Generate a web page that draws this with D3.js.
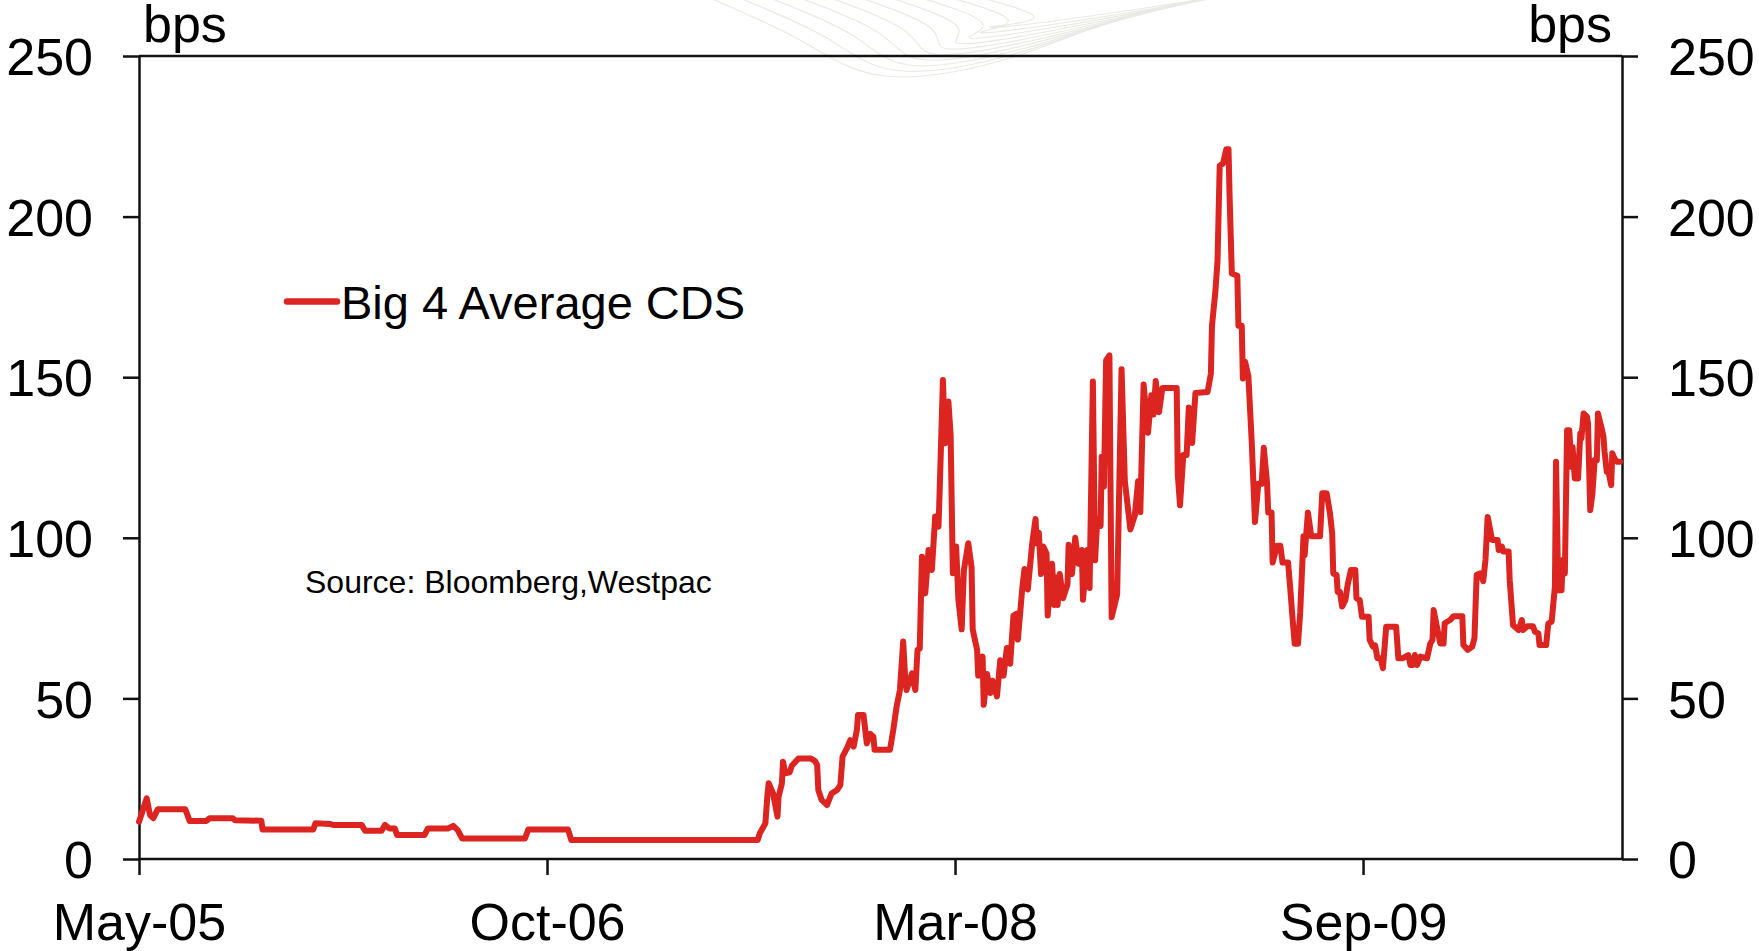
<!DOCTYPE html>
<html>
<head>
<meta charset="utf-8">
<script src="https://cdn.jsdelivr.net/npm/d3@7/dist/d3.min.js"></script>
<style>
  html, body { margin: 0; padding: 0; background: #fff; }
  svg { display: block; }
  text { font-family: "Liberation Sans", Arial, Helvetica, sans-serif; fill: #000; }
</style>
</head>
<body>
<svg id="chart" width="1759" height="951"></svg>
<script>
// Observation number (trading days since start of series) for each reading
const obsDay = [
  0, 4, 7, 10, 13, 17, 42, 46, 61, 64, 85, 87, 111, 112, 158, 160, 173, 176, 202, 205,
  220, 223, 227, 232, 234, 259, 262, 280, 285, 289, 293, 350, 353, 389, 392, 561,
  563, 568, 570, 571, 575, 579, 580, 583, 584, 586, 590, 592, 598, 609, 613, 615, 616, 619,
  624, 628, 633, 636, 638, 642, 645, 648, 651, 652, 657, 660, 663, 666, 667, 681, 684, 687,
  690, 693, 695, 696, 701, 704, 706, 708, 710, 713, 716, 719, 722, 725, 726, 729, 731, 734,
  736, 738, 741, 743, 746, 748, 752, 755, 756, 760, 761, 765, 766, 769, 772, 774, 778, 781,
  784, 787, 790, 793, 796, 797, 801, 803, 806, 810, 813, 814, 816, 818, 820, 823, 824, 828,
  830, 832, 833, 835, 838, 842, 843, 846, 849, 852, 855, 856, 860, 862, 865, 867, 869, 872,
  873, 875, 877, 880, 882, 887, 891, 894, 899, 903, 906, 908, 911, 915, 918, 919, 920, 922,
  925, 928, 941, 942, 944, 947, 950, 952, 955, 958, 969, 972, 973, 976, 978, 980, 983, 986,
  988, 989, 991, 996, 997, 1000, 1001, 1003, 1006, 1009, 1012, 1015, 1018, 1020, 1023, 1024,
  1027, 1028, 1032, 1035, 1037, 1042, 1044, 1046, 1048, 1051, 1053, 1056, 1057, 1060, 1063,
  1071, 1073, 1077, 1080, 1082, 1083, 1086, 1087, 1089, 1091, 1094, 1096, 1099, 1103, 1104,
  1107, 1109, 1115, 1116, 1119, 1121, 1123, 1126, 1128, 1131, 1140, 1142, 1146, 1151, 1153,
  1155, 1157, 1159, 1162, 1168, 1171, 1173, 1174, 1177, 1180, 1183, 1184, 1189, 1192, 1200,
  1201, 1205, 1209, 1211, 1213, 1216, 1219, 1221, 1223, 1227, 1232, 1233, 1236, 1237, 1242,
  1243, 1245, 1246, 1251, 1254, 1255, 1259, 1264, 1266, 1269, 1270, 1276, 1278, 1281, 1284,
  1285, 1287, 1290, 1291, 1293, 1295, 1297, 1299, 1300, 1302, 1305, 1307, 1308, 1310, 1313,
  1314, 1316, 1318, 1320, 1322, 1323, 1326, 1328, 1329, 1331, 1332, 1335, 1336, 1338, 1340, 1343
];

// Big 4 average CDS spread, bps
const cdsBps = [
  11.6, 15.8, 18.9, 13.7, 12.7, 15.5, 15.5, 11.8, 11.8, 12.7, 12.7, 12.1, 11.9, 9.2, 9.2, 11.1, 10.9, 10.6, 10.6, 8.8,
  8.8, 10.6, 9.5, 9.5, 7.5, 7.5, 9.5, 9.5, 10.3, 9.0, 6.4, 6.4, 9.2, 9.2, 5.9, 5.9,
  8.0, 11.1, 20.4, 23.6, 20.4, 13.2, 19.4, 23.6, 30.3, 26.7, 27.0, 29.0, 31.3, 31.3, 30.5, 29.3, 21.5, 18.4,
  16.8, 20.4, 21.5, 23.0, 31.9, 34.5, 37.0, 35.0, 40.2, 44.8, 44.8, 36.0, 39.0, 38.0, 34.0, 34.0, 40.2, 47.4,
  52.6, 67.7, 55.0, 52.6, 57.8, 52.6, 65.1, 65.5, 94.1, 82.7, 96.2, 90.0, 106.6, 103.5, 113.8, 149.1, 129.4, 142.4,
  132.0, 89.0, 97.3, 81.0, 71.5, 89.8, 98.3, 90.8, 71.5, 65.1, 57.1, 63.0, 48.0, 57.6, 51.7, 55.5, 50.6, 61.9,
  57.1, 65.7, 60.8, 75.8, 76.4, 68.3, 84.4, 90.3, 83.9, 98.3, 105.9, 98.3, 101.6, 88.7, 97.3, 95.1, 75.8, 91.9,
  79.1, 87.6, 79.1, 88.7, 81.2, 85.5, 97.8, 88.7, 100.0, 91.9, 96.2, 80.7, 96.2, 84.4, 148.7, 93.0, 105.9, 103.7,
  125.2, 116.0, 155.2, 156.8, 75.3, 82.3, 152.5, 117.6, 102.6, 106.9, 117.6, 108.0, 147.7, 132.7, 144.4, 143.6, 138.4, 148.8,
  139.1, 146.6, 146.6, 119.8, 110.1, 125.8, 125.8, 140.6, 129.5, 145.1, 145.4, 151.1, 166.0, 176.4, 186.0, 215.8, 216.5, 221.0,
  221.0, 206.1, 182.3, 181.6, 166.0, 166.0, 149.6, 154.8, 150.3, 130.2, 104.9, 116.8, 116.8, 128.0, 116.8, 107.9,
  107.9, 92.3, 97.5, 97.5, 92.3, 92.3, 84.1, 75.2, 67.0, 67.0, 76.7, 100.5, 94.6, 107.9, 100.5,
  100.5, 113.9, 113.9, 107.6, 101.4, 88.9, 88.4, 83.2, 83.2, 78.6, 80.6, 85.3, 90.0, 90.0, 81.2,
  80.6, 75.4, 75.4, 68.2, 66.1, 66.5, 62.5, 62.5, 59.4, 72.3, 72.3, 62.5, 62.5, 63.5, 60.4,
  60.4, 63.5, 60.4, 63.0, 62.5, 67.1, 68.2, 77.5, 72.3, 67.1, 67.1, 73.4, 74.4, 75.6, 75.6,
  66.6, 65.1, 66.1, 68.7, 88.4, 88.9, 86.5, 93.1, 106.5, 99.3, 99.3, 96.2, 97.2, 95.7, 95.7,
  86.8, 77.5, 72.8, 71.3, 74.4, 71.3, 72.5, 72.5, 70.7, 70.2, 66.6, 66.6, 73.3, 73.9, 84.8,
  123.7, 83.7, 83.7, 93.1, 88.9, 133.5, 133.5, 122.1, 128.3, 118.5, 118.5, 132.5, 130.9, 138.7, 137.7,
  135.6, 108.6, 113.8, 124.2, 124.2, 138.7, 134.6, 131.5, 126.8, 120.6, 121.6, 116.4, 126.3, 124.7, 123.7, 123.7
];

// Category-axis ticks: observation number and its date label
const tickDays = [0, 370, 740, 1110];
const tickLabels = ["May-05", "Oct-06", "Mar-08", "Sep-09"];
const yTicks = [0, 50, 100, 150, 200, 250];

const seriesName = "Big 4 Average CDS";
const sourceNote = "Source: Bloomberg,Westpac";
const unitLabel = "bps";

const svg = d3.select("#chart");
const W = 1759, H = 951;
const plot = { left: 139, right: 1622, top: 56, bottom: 859 };
const lastX = 1620;
const red = "#dc2520";
const axisColor = "#111";
const fontBig = 52;

svg.append("rect").attr("width", W).attr("height", H).attr("fill", "#fff");

// faint template swoosh behind the top of the frame
const swoosh = svg.append("g").attr("fill", "none").attr("stroke", "#e2e2da")
  .attr("stroke-width", 1.2).attr("opacity", 0.7);
const swooshLine = d3.line().curve(d3.curveNatural);
for (let i = 0; i < 10; i++) {
  const pts = [
    [705 + i * 30, -4],
    [800 + i * 26, 40 - i * 2.5],
    [885 + i * 12, 76 - i * 5.5],
    [1010 + i * 4, 58 - i * 4],
    [1120 + i * 11, 18 - i * 2.4],
    [1215, -2 - i * 0.5]
  ];
  swoosh.append("path").attr("d", swooshLine(pts));
}

const x = d3.scaleLinear().domain([0, d3.max(obsDay)]).range([plot.left, lastX]);
const y = d3.scaleLinear().domain([0, 250]).range([plot.bottom, plot.top]);

// top border of the frame
svg.append("line")
  .attr("x1", plot.left).attr("x2", plot.right)
  .attr("y1", plot.top).attr("y2", plot.top)
  .attr("stroke", axisColor).attr("stroke-width", 2.5);

function styleAxis(g) {
  g.select(".domain").attr("stroke", axisColor).attr("stroke-width", 2.5);
  g.selectAll(".tick line").attr("stroke", axisColor).attr("stroke-width", 2.5);
  g.selectAll(".tick text")
    .attr("font-size", fontBig)
    .attr("font-family", '"Liberation Sans", Arial, sans-serif')
    .attr("fill", "#000");
}

const yLeft = svg.append("g")
  .attr("transform", `translate(${plot.left},0)`)
  .call(d3.axisLeft(y).tickValues(yTicks).tickSize(16).tickSizeOuter(0).tickPadding(30).tickFormat(d3.format("d")));
styleAxis(yLeft);
yLeft.selectAll(".tick text").attr("dy", "0.36em");

const yRight = svg.append("g")
  .attr("transform", `translate(${plot.right},0)`)
  .call(d3.axisRight(y).tickValues(yTicks).tickSize(16).tickSizeOuter(0).tickPadding(30).tickFormat(d3.format("d")));
styleAxis(yRight);
yRight.selectAll(".tick text").attr("dy", "0.36em");

const xAxis = svg.append("g")
  .attr("transform", `translate(0,${plot.bottom})`)
  .call(d3.axisBottom(x).tickValues(tickDays).tickSize(16).tickSizeOuter(0).tickPadding(28)
    .tickFormat((d, i) => tickLabels[i]));
xAxis.select(".domain").attr("d", `M${plot.left},0H${plot.right}`);
styleAxis(xAxis);

// unit labels
svg.append("text").attr("x", 143).attr("y", 42).attr("font-size", fontBig).text(unitLabel);
svg.append("text").attr("x", 1612).attr("y", 42).attr("font-size", fontBig)
  .attr("text-anchor", "end").text(unitLabel);

// series line
const line = d3.line()
  .x((d, i) => x(obsDay[i]))
  .y(d => y(d));
svg.append("path")
  .attr("d", line(cdsBps))
  .attr("fill", "none")
  .attr("stroke", red)
  .attr("stroke-width", 6)
  .attr("stroke-linejoin", "round")
  .attr("stroke-linecap", "round");

// legend
svg.append("line")
  .attr("x1", 287).attr("x2", 337).attr("y1", 301.5).attr("y2", 301.5)
  .attr("stroke", red).attr("stroke-width", 6.5).attr("stroke-linecap", "round");
svg.append("text").attr("x", 341).attr("y", 319).attr("font-size", 47).text(seriesName);

// source note
svg.append("text").attr("x", 305).attr("y", 593).attr("font-size", 32).text(sourceNote);
</script>
</body>
</html>
